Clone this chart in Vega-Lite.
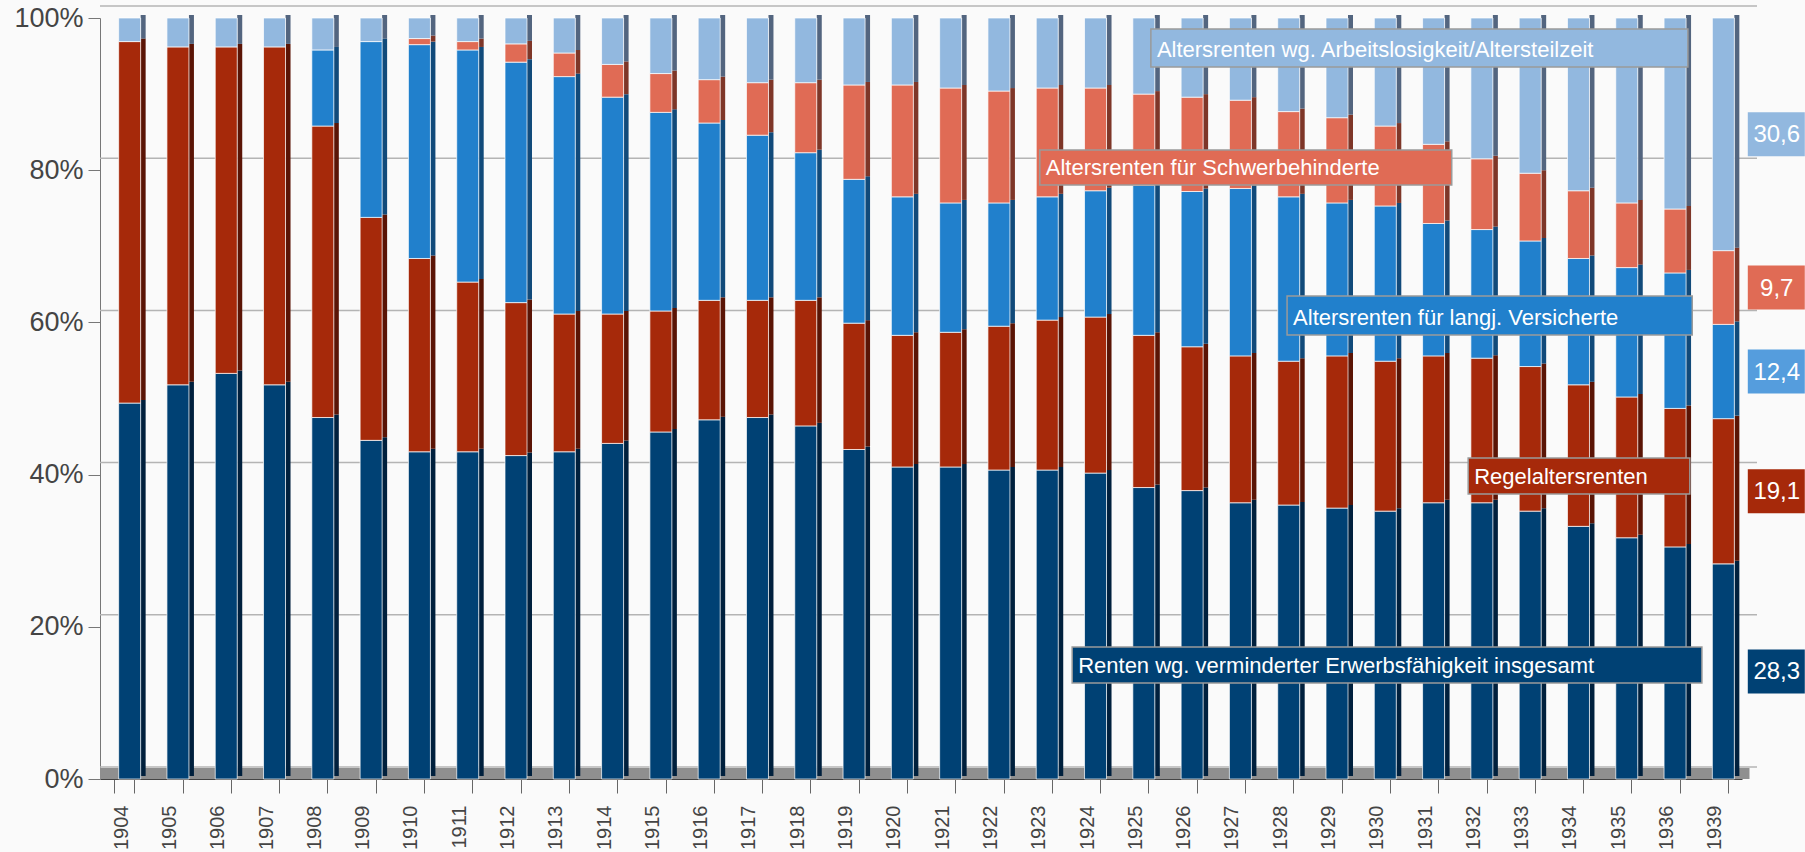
{
  "$schema": "https://vega.github.io/schema/vega-lite/v6.json",
  "width": 1642,
  "height": 761,
  "autosize": {"type": "none"},
  "padding": {"left": 100, "top": 18, "right": 63, "bottom": 73},
  "background": "#fafafa",
  "config": {"view": {"stroke": null}, "font": "Liberation Sans"},
  "datasets": {
    "shares": [
      {"year": "1904", "em": 49.4, "ra": 47.5, "lv": 0, "sb": 0, "al": 3.1},
      {"year": "1905", "em": 51.8, "ra": 44.4, "lv": 0, "sb": 0, "al": 3.8},
      {"year": "1906", "em": 53.3, "ra": 42.9, "lv": 0, "sb": 0, "al": 3.8},
      {"year": "1907", "em": 51.8, "ra": 44.4, "lv": 0, "sb": 0, "al": 3.8},
      {"year": "1908", "em": 47.5, "ra": 38.3, "lv": 10.0, "sb": 0, "al": 4.2},
      {"year": "1909", "em": 44.5, "ra": 29.3, "lv": 23.1, "sb": 0, "al": 3.1},
      {"year": "1910", "em": 43.0, "ra": 25.4, "lv": 28.1, "sb": 0.8, "al": 2.7},
      {"year": "1911", "em": 43.0, "ra": 22.3, "lv": 30.5, "sb": 1.1, "al": 3.1},
      {"year": "1912", "em": 42.5, "ra": 20.1, "lv": 31.6, "sb": 2.4, "al": 3.4},
      {"year": "1913", "em": 43.0, "ra": 18.1, "lv": 31.2, "sb": 3.1, "al": 4.6},
      {"year": "1914", "em": 44.1, "ra": 17.0, "lv": 28.5, "sb": 4.3, "al": 6.1},
      {"year": "1915", "em": 45.6, "ra": 15.9, "lv": 26.1, "sb": 5.1, "al": 7.3},
      {"year": "1916", "em": 47.2, "ra": 15.7, "lv": 23.3, "sb": 5.7, "al": 8.1},
      {"year": "1917", "em": 47.5, "ra": 15.4, "lv": 21.7, "sb": 6.9, "al": 8.5},
      {"year": "1918", "em": 46.4, "ra": 16.5, "lv": 19.4, "sb": 9.2, "al": 8.5},
      {"year": "1919", "em": 43.3, "ra": 16.6, "lv": 18.9, "sb": 12.4, "al": 8.8},
      {"year": "1920", "em": 41.0, "ra": 17.3, "lv": 18.2, "sb": 14.7, "al": 8.8},
      {"year": "1921", "em": 41.0, "ra": 17.7, "lv": 17.0, "sb": 15.1, "al": 9.2},
      {"year": "1922", "em": 40.6, "ra": 18.9, "lv": 16.2, "sb": 14.7, "al": 9.6},
      {"year": "1923", "em": 40.6, "ra": 19.7, "lv": 16.2, "sb": 14.3, "al": 9.2},
      {"year": "1924", "em": 40.2, "ra": 20.5, "lv": 16.6, "sb": 13.5, "al": 9.2},
      {"year": "1925", "em": 38.3, "ra": 20.0, "lv": 19.7, "sb": 12.0, "al": 10.0},
      {"year": "1926", "em": 37.9, "ra": 18.9, "lv": 20.4, "sb": 12.4, "al": 10.4},
      {"year": "1927", "em": 36.3, "ra": 19.3, "lv": 22.0, "sb": 11.6, "al": 10.8},
      {"year": "1928", "em": 36.0, "ra": 18.9, "lv": 21.6, "sb": 11.2, "al": 12.3},
      {"year": "1929", "em": 35.6, "ra": 20.0, "lv": 20.1, "sb": 11.2, "al": 13.1},
      {"year": "1930", "em": 35.2, "ra": 19.7, "lv": 20.4, "sb": 10.5, "al": 14.2},
      {"year": "1931", "em": 36.3, "ra": 19.3, "lv": 17.4, "sb": 10.4, "al": 16.6},
      {"year": "1932", "em": 36.3, "ra": 19.0, "lv": 16.9, "sb": 9.3, "al": 18.5},
      {"year": "1933", "em": 35.2, "ra": 19.0, "lv": 16.5, "sb": 8.9, "al": 20.4},
      {"year": "1934", "em": 33.2, "ra": 18.6, "lv": 16.6, "sb": 8.9, "al": 22.7},
      {"year": "1935", "em": 31.7, "ra": 18.5, "lv": 17.0, "sb": 8.5, "al": 24.3},
      {"year": "1936", "em": 30.5, "ra": 18.2, "lv": 17.8, "sb": 8.4, "al": 25.1},
      {"year": "1939", "em": 28.3, "ra": 19.1, "lv": 12.4, "sb": 9.7, "al": 30.6}
    ],
    "ann": [
      {"key": "al", "label": "Altersrenten wg. Arbeitslosigkeit/Altersteilzeit", "u1": 21.76, "u2": 32.88, "v1": 0.9356, "v2": 0.9855},
      {"key": "sb", "label": "Altersrenten für Schwerbehinderte", "u1": 19.46, "u2": 27.99, "v1": 0.7805, "v2": 0.8265},
      {"key": "lv", "label": "Altersrenten für langj. Versicherte", "u1": 24.58, "u2": 32.97, "v1": 0.5834, "v2": 0.6347},
      {"key": "ra", "label": "Regelaltersrenten", "u1": 28.33, "u2": 32.92, "v1": 0.3745, "v2": 0.4218},
      {"key": "em", "label": "Renten wg. verminderter Erwerbsfähigkeit insgesamt", "u1": 20.13, "u2": 33.17, "v1": 0.1261, "v2": 0.1734}
    ],
    "grid": [{"g": 0}, {"g": 0.2}, {"g": 0.4}, {"g": 0.6}, {"g": 0.8}, {"g": 1}]
  },
  "resolve": {"scale": {"x": "independent", "color": "independent"}},
  "layer": [
    {
      "data": {"name": "grid"},
      "mark": {"type": "rule", "color": "#b4b4b4", "strokeWidth": 1.5, "xOffset": 15, "yOffset": -12},
      "encoding": {
        "y": {
          "field": "g", "type": "quantitative",
          "scale": {"domain": [0, 1], "nice": false},
          "axis": {"title": null, "format": ".0%", "values": [0, 0.2, 0.4, 0.6, 0.8, 1], "labelFontSize": 27, "labelColor": "#444444", "labelFont": "Liberation Sans", "tickSize": 12, "tickColor": "#777777", "domainColor": "#777777", "labelPadding": 5, "grid": false}
        }
      }
    },
    {
      "data": {"values": [{"g": 0}]},
      "mark": {"type": "rule", "color": "#8f8f8f", "strokeWidth": 11, "xOffset": 7.5, "yOffset": -5.5},
      "encoding": {"y": {"field": "g", "type": "quantitative", "title": null}}
    },
    {
      "data": {"name": "shares"},
      "transform": [
        {"fold": ["em", "ra", "lv", "sb", "al"], "as": ["key", "value"]},
        {"filter": "datum.value > 0"},
        {"calculate": "indexof(['em','ra','lv','sb','al'], datum.key)", "as": "ord"}
      ],
      "mark": {"type": "bar", "size": 5, "xOffset": 19, "yOffset": -3, "y2Offset": -3},
      "encoding": {
        "x": {"field": "year", "type": "ordinal", "scale": {"paddingInner": 0.58, "paddingOuter": 0.29}, "axis": null},
        "y": {"field": "value", "type": "quantitative", "stack": "normalize", "title": null},
        "color": {"field": "key", "type": "nominal", "scale": {"domain": ["em", "ra", "lv", "sb", "al"], "range": ["#00203d", "#5a1405", "#114a7a", "#7e3628", "#53657f"]}, "legend": null},
        "order": {"field": "ord", "type": "quantitative"}
      }
    },
    {
      "data": {"name": "shares"},
      "transform": [
        {"fold": ["em", "ra", "lv", "sb", "al"], "as": ["key", "value"]},
        {"filter": "datum.value > 0"},
        {"calculate": "indexof(['em','ra','lv','sb','al'], datum.key)", "as": "ord"}
      ],
      "mark": {"type": "bar", "size": 22, "xOffset": 5.5, "stroke": "#ffffff", "strokeWidth": 1, "strokeOpacity": 0.7},
      "encoding": {
        "x": {
          "field": "year", "type": "ordinal",
          "scale": {"paddingInner": 0.58, "paddingOuter": 0.29},
          "axis": {"title": null, "labelAngle": -90, "labelFontSize": 20, "labelColor": "#444444", "labelFont": "Liberation Sans", "labelOffset": -3, "tickBand": "extent", "tickSize": 14, "tickColor": "#666666", "domainColor": "#444444", "labelPadding": 12, "grid": false}
        },
        "y": {"field": "value", "type": "quantitative", "stack": "normalize", "title": null},
        "color": {"field": "key", "type": "nominal", "scale": {"domain": ["em", "ra", "lv", "sb", "al"], "range": ["#004174", "#a6290a", "#2180cc", "#e06b55", "#92b8df"]}, "legend": null},
        "order": {"field": "ord", "type": "quantitative"}
      }
    },
    {
      "data": {"name": "ann"},
      "mark": {"type": "rect", "stroke": "#9a9a9a", "strokeWidth": 1.5},
      "encoding": {
        "x": {"field": "u1", "type": "quantitative", "scale": {"domain": [0, 34], "nice": false, "zero": false}, "axis": null},
        "x2": {"field": "u2"},
        "y": {"field": "v1", "type": "quantitative", "title": null},
        "y2": {"field": "v2"},
        "color": {"field": "key", "type": "nominal", "scale": {"domain": ["em", "ra", "lv", "sb", "al"], "range": ["#004174", "#a6290a", "#2180cc", "#e06b55", "#92b8df"]}, "legend": null}
      }
    },
    {
      "data": {"name": "ann"},
      "mark": {"type": "text", "align": "left", "baseline": "alphabetic", "dx": 6, "dy": -10, "fontSize": 22, "color": "#ffffff", "font": "Liberation Sans"},
      "encoding": {
        "x": {"field": "u1", "type": "quantitative", "scale": {"domain": [0, 34], "nice": false, "zero": false}, "axis": null},
        "y": {"field": "v1", "type": "quantitative", "title": null},
        "text": {"field": "label"}
      }
    },
    {
      "data": {"name": "shares"},
      "transform": [
        {"filter": "datum.year === '1939'"},
        {"fold": ["em", "ra", "lv", "sb", "al"], "as": ["key", "value"]},
        {"calculate": "indexof(['em','ra','lv','sb','al'], datum.key)", "as": "ord"},
        {"stack": "value", "groupby": ["year"], "sort": [{"field": "ord", "order": "ascending"}], "offset": "normalize", "as": ["s0", "s1"]},
        {"calculate": "(datum.s0 + datum.s1) / 2", "as": "mid"}
      ],
      "mark": {"type": "rect", "yOffset": 22, "y2Offset": -22},
      "encoding": {
        "x": {"datum": 34.12, "type": "quantitative", "scale": {"domain": [0, 34], "nice": false, "zero": false}, "axis": null},
        "x2": {"datum": 35.3},
        "y": {"field": "mid", "type": "quantitative", "title": null},
        "y2": {"field": "mid"},
        "color": {"field": "key", "type": "nominal", "scale": {"domain": ["em", "ra", "lv", "sb", "al"], "range": ["#004174", "#a6290a", "#559ddd", "#e06b55", "#92b8df"]}, "legend": null}
      }
    },
    {
      "data": {"name": "shares"},
      "transform": [
        {"filter": "datum.year === '1939'"},
        {"fold": ["em", "ra", "lv", "sb", "al"], "as": ["key", "value"]},
        {"calculate": "indexof(['em','ra','lv','sb','al'], datum.key)", "as": "ord"},
        {"stack": "value", "groupby": ["year"], "sort": [{"field": "ord", "order": "ascending"}], "offset": "normalize", "as": ["s0", "s1"]},
        {"calculate": "(datum.s0 + datum.s1) / 2", "as": "mid"},
        {"calculate": "replace(format(datum.value, '.1f'), '.', ',')", "as": "lbl"}
      ],
      "mark": {"type": "text", "align": "center", "baseline": "middle", "dy": 1, "fontSize": 24, "color": "#ffffff", "font": "Liberation Sans"},
      "encoding": {
        "x": {"datum": 34.72, "type": "quantitative", "scale": {"domain": [0, 34], "nice": false, "zero": false}, "axis": null},
        "y": {"field": "mid", "type": "quantitative", "title": null},
        "text": {"field": "lbl"}
      }
    }
  ]
}
